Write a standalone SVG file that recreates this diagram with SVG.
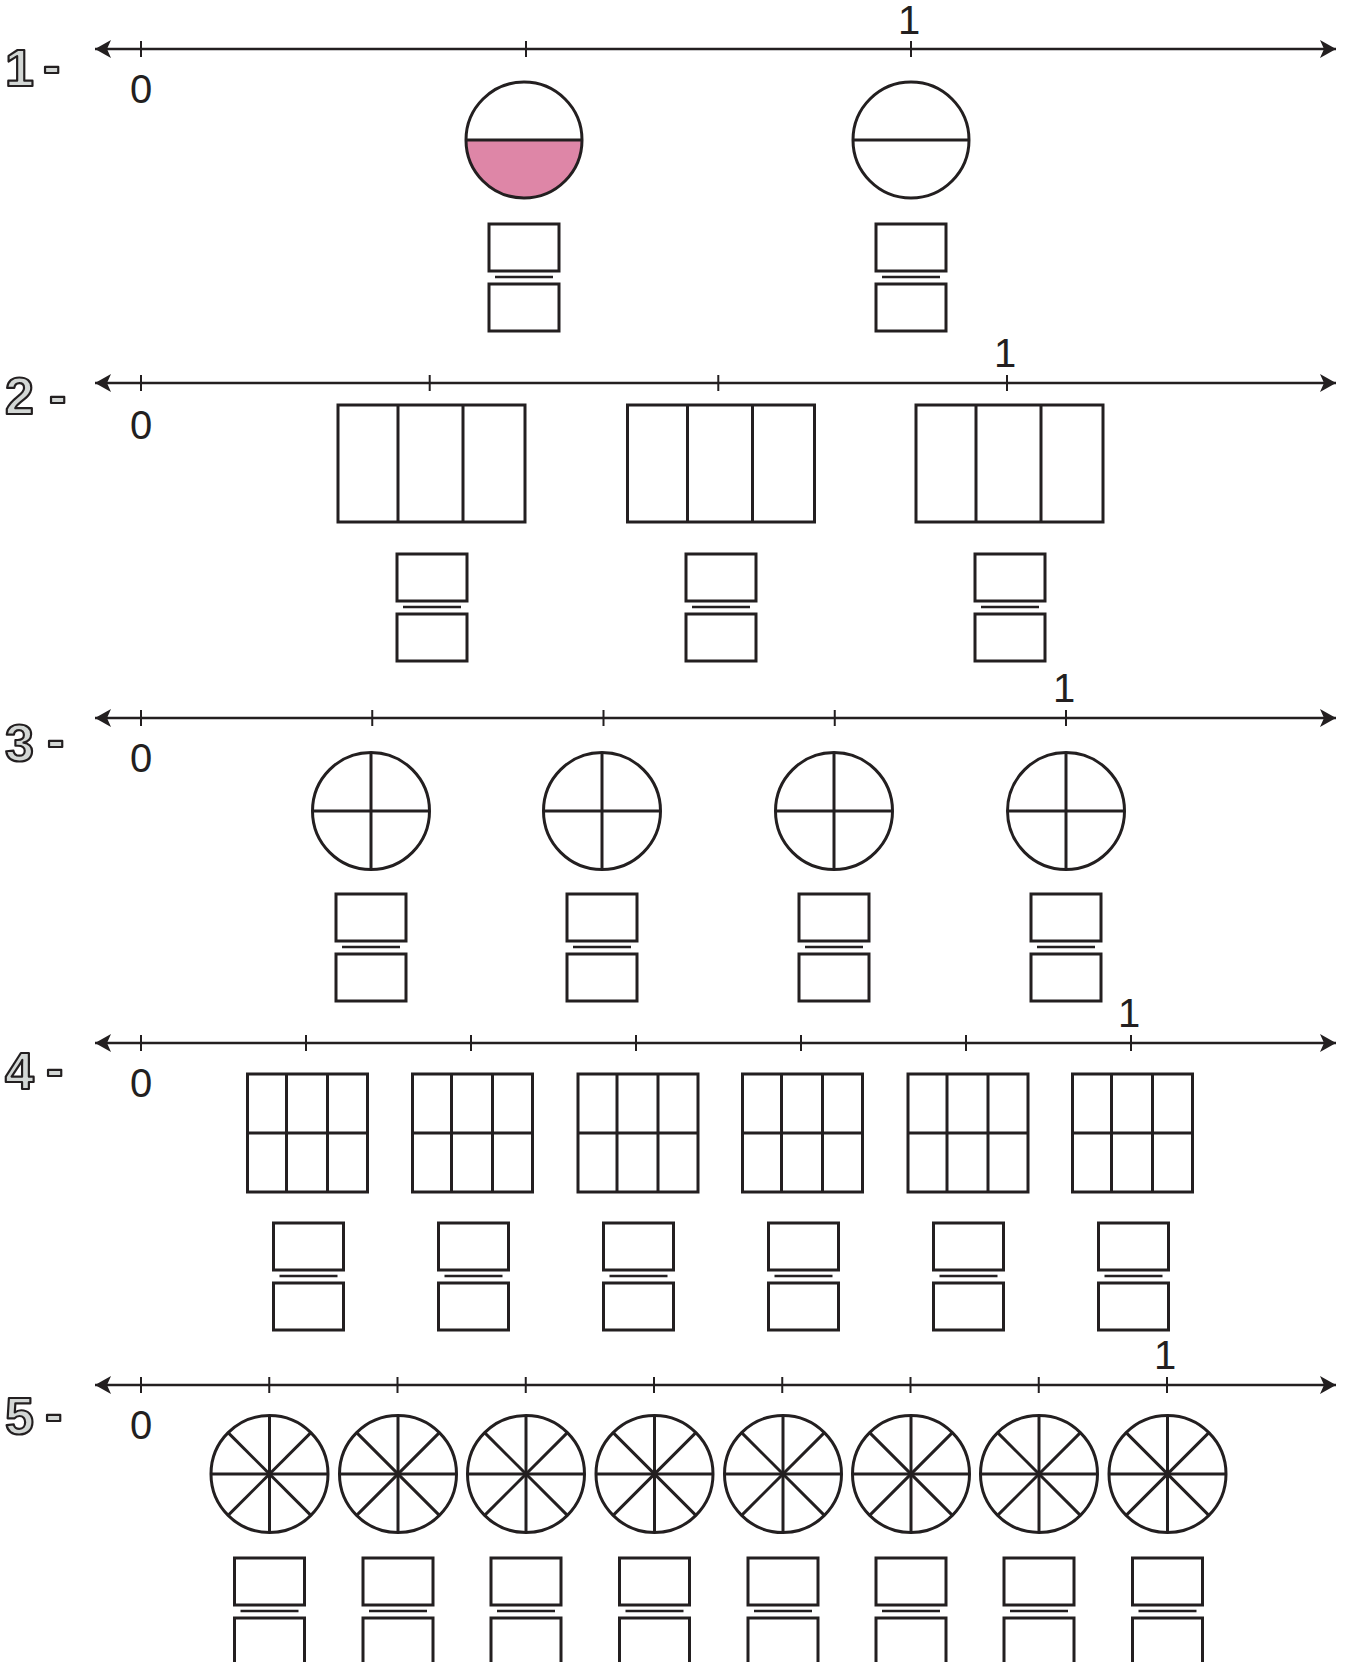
<svg xmlns="http://www.w3.org/2000/svg" xmlns:xlink="http://www.w3.org/1999/xlink" width="1354" height="1662" viewBox="0 0 1354 1662">
<style>
.ln{stroke:#231f20;stroke-width:2.5;fill:none}
.tk{stroke:#231f20;stroke-width:2;fill:none}
.sh{stroke:#231f20;stroke-width:3;fill:none}
.num{font-family:"Liberation Sans",Arial,sans-serif;font-size:40px;fill:#231f20;text-anchor:middle}
.rl{font-family:"Liberation Sans",Arial,sans-serif;font-weight:bold;font-size:52px;fill:#d3d7d5;stroke:#231f20;stroke-width:2.2;stroke-linejoin:round}
</style>
<defs>
<marker id="ah" viewBox="0 0 16 18" refX="16" refY="9" markerWidth="16" markerHeight="18" markerUnits="userSpaceOnUse" orient="auto-start-reverse">
<path d="M0,0 L16,9 L0,18 L4,9 Z" fill="#231f20"/>
</marker>
<g id="frac">
<rect class="sh" x="-35" y="0" width="70" height="47"/>
<line class="sh" x1="-29" y1="53" x2="29" y2="53" style="stroke-width:2.5"/>
<rect class="sh" x="-35" y="60" width="70" height="47"/>
</g>
<g id="c2">
<circle class="sh" cx="0" cy="0" r="58"/>
<line class="sh" x1="-58" y1="0" x2="58" y2="0"/>
</g>
<g id="c4">
<circle class="sh" cx="0" cy="0" r="58.5"/>
<line class="sh" x1="-58.5" y1="0" x2="58.5" y2="0"/>
<line class="sh" x1="0" y1="-58.5" x2="0" y2="58.5"/>
</g>
<g id="c8">
<circle class="sh" cx="0" cy="0" r="58.5"/>
<line class="sh" x1="-58.5" y1="0" x2="58.5" y2="0"/>
<line class="sh" x1="0" y1="-58.5" x2="0" y2="58.5"/>
<line class="sh" x1="-41.4" y1="-41.4" x2="41.4" y2="41.4"/>
<line class="sh" x1="-41.4" y1="41.4" x2="41.4" y2="-41.4"/>
</g>
<g id="r3">
<rect class="sh" x="-93.5" y="0" width="187" height="117"/>
<line class="sh" x1="-33.5" y1="0" x2="-33.5" y2="117"/>
<line class="sh" x1="31.5" y1="0" x2="31.5" y2="117"/>
</g>
<g id="g6">
<rect class="sh" x="-60" y="-59" width="120" height="118"/>
<line class="sh" x1="-60" y1="0" x2="60" y2="0"/>
<line class="sh" x1="-21" y1="-59" x2="-21" y2="59"/>
<line class="sh" x1="20" y1="-59" x2="20" y2="59"/>
</g>
</defs>
<rect width="1354" height="1662" fill="#ffffff"/>

<g id="connectors">
<line class="ln" x1="95" y1="49" x2="1336" y2="49" marker-start="url(#ah)" marker-end="url(#ah)"/>
<line class="ln" x1="95" y1="383" x2="1336" y2="383" marker-start="url(#ah)" marker-end="url(#ah)"/>
<line class="ln" x1="95" y1="718" x2="1336" y2="718" marker-start="url(#ah)" marker-end="url(#ah)"/>
<line class="ln" x1="95" y1="1043" x2="1336" y2="1043" marker-start="url(#ah)" marker-end="url(#ah)"/>
<line class="ln" x1="95" y1="1385" x2="1336" y2="1385" marker-start="url(#ah)" marker-end="url(#ah)"/>
</g>

<g id="ticks">
<path class="tk" d="M141,41V57M526,41V57M911,41V57"/>
<path class="tk" d="M141,375V391M429.7,375V391M718.3,375V391M1007,375V391"/>
<path class="tk" d="M141,710V726M372.25,710V726M603.5,710V726M834.75,710V726M1066,710V726"/>
<path class="tk" d="M141,1035V1051M306,1035V1051M471,1035V1051M636,1035V1051M801,1035V1051M966,1035V1051M1131,1035V1051"/>
<path class="tk" d="M141,1377V1393M269.25,1377V1393M397.5,1377V1393M525.75,1377V1393M654,1377V1393M782.25,1377V1393M910.5,1377V1393M1038.75,1377V1393M1167,1377V1393"/>
</g>

<g id="labels">
<text class="rl" x="5" y="86">1</text><text class="rl" x="43" y="83">-</text>
<text class="rl" x="5" y="414">2</text><text class="rl" x="49" y="413">-</text>
<text class="rl" x="5" y="761">3</text><text class="rl" x="47" y="757">-</text>
<text class="rl" x="5" y="1089">4</text><text class="rl" x="46" y="1086">-</text>
<text class="rl" x="5" y="1434">5</text><text class="rl" x="45" y="1431">-</text>
<text class="num" x="141" y="103">0</text>
<text class="num" x="909" y="34">1</text>
<text class="num" x="141" y="439">0</text>
<text class="num" x="1005" y="367">1</text>
<text class="num" x="141" y="772">0</text>
<text class="num" x="1064" y="702">1</text>
<text class="num" x="141" y="1097">0</text>
<text class="num" x="1129" y="1027">1</text>
<text class="num" x="141" y="1439">0</text>
<text class="num" x="1165" y="1369">1</text>
</g>

<g id="row1-shape1" transform="translate(524,140)">
<path d="M-58,0 A58,58 0 0 0 58,0 Z" fill="#de86a7"/>
<use xlink:href="#c2"/>
</g>
<g id="row1-shape2"><use xlink:href="#c2" x="911" y="140"/></g>
<g id="row1-frac1"><use xlink:href="#frac" x="524" y="224"/></g>
<g id="row1-frac2"><use xlink:href="#frac" x="911" y="224"/></g>

<g id="row2-shape1"><use xlink:href="#r3" x="431.5" y="405"/></g>
<g id="row2-shape2"><use xlink:href="#r3" x="721" y="405"/></g>
<g id="row2-shape3"><use xlink:href="#r3" x="1009.5" y="405"/></g>
<g id="row2-frac1"><use xlink:href="#frac" x="432" y="554"/></g>
<g id="row2-frac2"><use xlink:href="#frac" x="721" y="554"/></g>
<g id="row2-frac3"><use xlink:href="#frac" x="1010" y="554"/></g>

<g id="row3-shape1"><use xlink:href="#c4" x="371" y="811"/></g>
<g id="row3-shape2"><use xlink:href="#c4" x="602" y="811"/></g>
<g id="row3-shape3"><use xlink:href="#c4" x="834" y="811"/></g>
<g id="row3-shape4"><use xlink:href="#c4" x="1066" y="811"/></g>
<g id="row3-frac1"><use xlink:href="#frac" x="371" y="894"/></g>
<g id="row3-frac2"><use xlink:href="#frac" x="602" y="894"/></g>
<g id="row3-frac3"><use xlink:href="#frac" x="834" y="894"/></g>
<g id="row3-frac4"><use xlink:href="#frac" x="1066" y="894"/></g>

<g id="row4-shape1"><use xlink:href="#g6" x="307.5" y="1133"/></g>
<g id="row4-shape2"><use xlink:href="#g6" x="472.5" y="1133"/></g>
<g id="row4-shape3"><use xlink:href="#g6" x="638" y="1133"/></g>
<g id="row4-shape4"><use xlink:href="#g6" x="802.5" y="1133"/></g>
<g id="row4-shape5"><use xlink:href="#g6" x="968" y="1133"/></g>
<g id="row4-shape6"><use xlink:href="#g6" x="1132.5" y="1133"/></g>
<g id="row4-frac1"><use xlink:href="#frac" x="308.5" y="1223"/></g>
<g id="row4-frac2"><use xlink:href="#frac" x="473.5" y="1223"/></g>
<g id="row4-frac3"><use xlink:href="#frac" x="638.5" y="1223"/></g>
<g id="row4-frac4"><use xlink:href="#frac" x="803.5" y="1223"/></g>
<g id="row4-frac5"><use xlink:href="#frac" x="968.5" y="1223"/></g>
<g id="row4-frac6"><use xlink:href="#frac" x="1133.5" y="1223"/></g>

<g id="row5-shape1"><use xlink:href="#c8" x="269.5" y="1474"/></g>
<g id="row5-shape2"><use xlink:href="#c8" x="398" y="1474"/></g>
<g id="row5-shape3"><use xlink:href="#c8" x="526" y="1474"/></g>
<g id="row5-shape4"><use xlink:href="#c8" x="654.5" y="1474"/></g>
<g id="row5-shape5"><use xlink:href="#c8" x="783" y="1474"/></g>
<g id="row5-shape6"><use xlink:href="#c8" x="911" y="1474"/></g>
<g id="row5-shape7"><use xlink:href="#c8" x="1039" y="1474"/></g>
<g id="row5-shape8"><use xlink:href="#c8" x="1167.5" y="1474"/></g>
<g id="row5-frac1"><use xlink:href="#frac" x="269.5" y="1558"/></g>
<g id="row5-frac2"><use xlink:href="#frac" x="398" y="1558"/></g>
<g id="row5-frac3"><use xlink:href="#frac" x="526" y="1558"/></g>
<g id="row5-frac4"><use xlink:href="#frac" x="654.5" y="1558"/></g>
<g id="row5-frac5"><use xlink:href="#frac" x="783" y="1558"/></g>
<g id="row5-frac6"><use xlink:href="#frac" x="911" y="1558"/></g>
<g id="row5-frac7"><use xlink:href="#frac" x="1039" y="1558"/></g>
<g id="row5-frac8"><use xlink:href="#frac" x="1167.5" y="1558"/></g>
</svg>
